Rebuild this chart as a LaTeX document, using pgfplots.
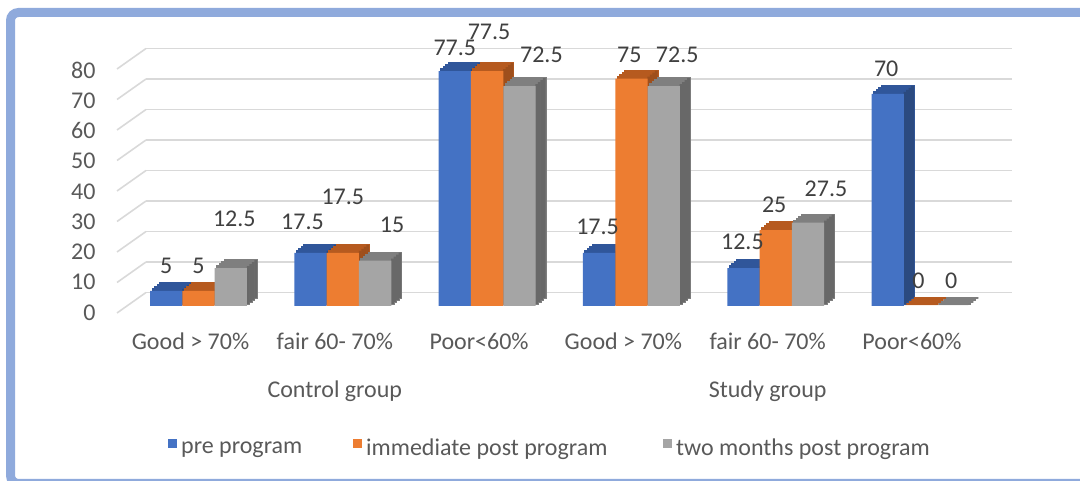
\documentclass[border=0pt]{standalone}
\usepackage{fontspec}
\setmainfont{Carlito}
\usepackage{pgfplots}
\usepackage{pgfplotstable}
\pgfplotsset{compat=1.18}
\definecolor{blueF}{HTML}{4472C4}
\definecolor{blueT}{HTML}{30569A}
\definecolor{blueS}{HTML}{2B4A80}
\definecolor{orangeF}{HTML}{ED7D31}
\definecolor{orangeT}{HTML}{B65A1F}
\definecolor{orangeS}{HTML}{9E4F1C}
\definecolor{grayF}{HTML}{A5A5A5}
\definecolor{grayT}{HTML}{7F7F7F}
\definecolor{grayS}{HTML}{686868}
\definecolor{gridc}{HTML}{D9D9D9}
\definecolor{framec}{HTML}{8FAADC}
\definecolor{txtc}{HTML}{595959}
\definecolor{labc}{HTML}{404040}

\pgfplotstableread{
x y dx dy
0 5 0 12.5
1 17.5 -4 15.5
2 77.5 0 11.75
3 17.5 -0.75 13
4 12.5 -0.5 13
5 70 -0.75 12.5
}\pre
\pgfplotstableread{
x y dx dy
0 5 0 12.5
1 17.5 0 28
2 77.5 1 19.5
3 75 -1 12
4 25 -0.75 12.75
5 0 -0.75 12.75
}\imm
\pgfplotstableread{
x y dx dy
0 12.5 1.75 24.5
1 15 8.5 17.75
2 72.5 11 15.5
3 72.5 6.75 15.5
4 27.5 9 17
5 0 -0.5 12.75
}\two

% 3D depth faces: #1 table, #2 bar shift, #3 top colour, #4 side colour, #5 side-strip shift
\newcommand\depthplots[5]{%
\addplot[fill=#3,draw=#3,line width=1pt,forget plot,bar shift=#2,xshift=1.25pt,yshift=1pt] table[x=x,y=y]{#1};
\addplot[fill=#3,draw=#3,line width=1pt,forget plot,bar shift=#2,xshift=2.5pt,yshift=2pt] table[x=x,y=y]{#1};
\addplot[fill=#3,draw=#3,line width=1pt,forget plot,bar shift=#2,xshift=3.75pt,yshift=3pt] table[x=x,y=y]{#1};
\addplot[fill=#3,draw=#3,line width=1pt,forget plot,bar shift=#2,xshift=5pt,yshift=4pt] table[x=x,y=y]{#1};
\addplot[fill=#4,draw=none,forget plot,bar width=1.4pt,bar shift=#5,xshift=0pt,yshift=1pt] table[x=x,y=y]{#1};
\addplot[fill=#4,draw=none,forget plot,bar width=1.4pt,bar shift=#5,xshift=1.25pt,yshift=2pt] table[x=x,y=y]{#1};
\addplot[fill=#4,draw=none,forget plot,bar width=1.4pt,bar shift=#5,xshift=2.5pt,yshift=3pt] table[x=x,y=y]{#1};
\addplot[fill=#4,draw=none,forget plot,bar width=1.4pt,bar shift=#5,xshift=3.75pt,yshift=4pt] table[x=x,y=y]{#1};
}

\begin{document}
\begin{tikzpicture}
\useasboundingbox (0,0) rectangle (540pt,240.5pt);
\clip (0,0) rectangle (540pt,240.5pt);
\draw[framec, line width=4.5pt, rounded corners=4pt] (5.25pt,-1.25pt) rectangle (600pt,234.25pt);

% back wall gridlines
\begin{axis}[at={(73pt,94.25pt)}, anchor=south west, width=433pt, height=122pt,
  scale only axis, xmin=0, xmax=1, ymin=0, ymax=80,
  ytick={0,10,...,80}, xtick=\empty, yticklabels={},
  ymajorgrids, grid style={color=gridc, line width=0.8pt},
  axis line style={draw=none}, major tick length=0, clip=false]
\pgfplotsinvokeforeach{0,10,...,80}{\draw[gridc,line width=0.8pt] (axis cs:0,#1) -- ++(-14.5pt,-10.25pt);}
\end{axis}

% bars
\begin{axis}[at={(63.175pt,87.5pt)}, anchor=south west, width=432.9pt, height=121.25pt,
  scale only axis, xmin=-0.5, xmax=5.5, ymin=0, ymax=80,
  ybar, bar width=16.15pt, clip=false,
  axis line style={draw=none}, major tick length=0,
  ytick={0,10,...,80}, xtick={0,...,5},
  xticklabels={Good > 70\%, fair 60- 70\%, Poor<60\%, Good > 70\%, fair 60- 70\%, Poor<60\%},
  /pgf/number format/assume math mode=true,
  tick label style={font=\fontsize{12}{14}\selectfont, text=txtc},
  yticklabel style={anchor=east, inner sep=0pt, xshift=-15.2pt, yshift=-3.3pt},
  xticklabel style={anchor=base, inner sep=0pt, yshift=-22pt, xshift=-4pt},
  every node near coord/.append style={anchor=center, inner sep=0pt, font=\fontsize{12}{14}\selectfont, text=labc},
  legend columns=3,
  legend style={draw=none, fill=none, at={(0.0481,-0.59)}, anchor=west, inner sep=0pt, outer sep=0pt,
    font=\fontsize{12}{14}\selectfont, text=txtc, nodes={inner sep=2pt},
    /tikz/every even column/.append style={column sep=0pt}},
  legend image code/.code={\fill[#1] (0pt,0.3pt) rectangle (4.6pt,4.9pt);},
]
\depthplots{\pre}{-16.15pt}{blueT}{blueS}{-7.45pt}
\addplot[fill=blueF, draw=none, bar shift=-16.15pt, nodes near coords,
  visualization depends on={\thisrow{dx}\as\ndx},
  visualization depends on={\thisrow{dy}\as\ndy},
  every node near coord/.append style={xshift=\ndx, yshift=\ndy}] table[x=x,y=y]{\pre};
\depthplots{\imm}{0pt}{orangeT}{orangeS}{8.7pt}
\addplot[fill=orangeF, draw=none, bar shift=0pt, nodes near coords,
  visualization depends on={\thisrow{dx}\as\ndx},
  visualization depends on={\thisrow{dy}\as\ndy},
  every node near coord/.append style={xshift=\ndx, yshift=\ndy}] table[x=x,y=y]{\imm};
\depthplots{\two}{16.15pt}{grayT}{grayS}{24.85pt}
\addplot[fill=grayF, draw=none, bar shift=16.15pt, nodes near coords,
  visualization depends on={\thisrow{dx}\as\ndx},
  visualization depends on={\thisrow{dy}\as\ndy},
  every node near coord/.append style={xshift=\ndx, yshift=\ndy}] table[x=x,y=y]{\two};
\legend{\makebox[83.9pt][l]{pre program}, \makebox[146.4pt][l]{immediate post program}, two months post program}
\node[anchor=base, font=\fontsize{12}{14}\selectfont, text=txtc, xshift=-4pt, yshift=-45.5pt] at (axis cs:1,0) {Control group};
\node[anchor=base, font=\fontsize{12}{14}\selectfont, text=txtc, xshift=-4pt, yshift=-45.5pt] at (axis cs:4,0) {Study group};
\end{axis}
\end{tikzpicture}
\end{document}
